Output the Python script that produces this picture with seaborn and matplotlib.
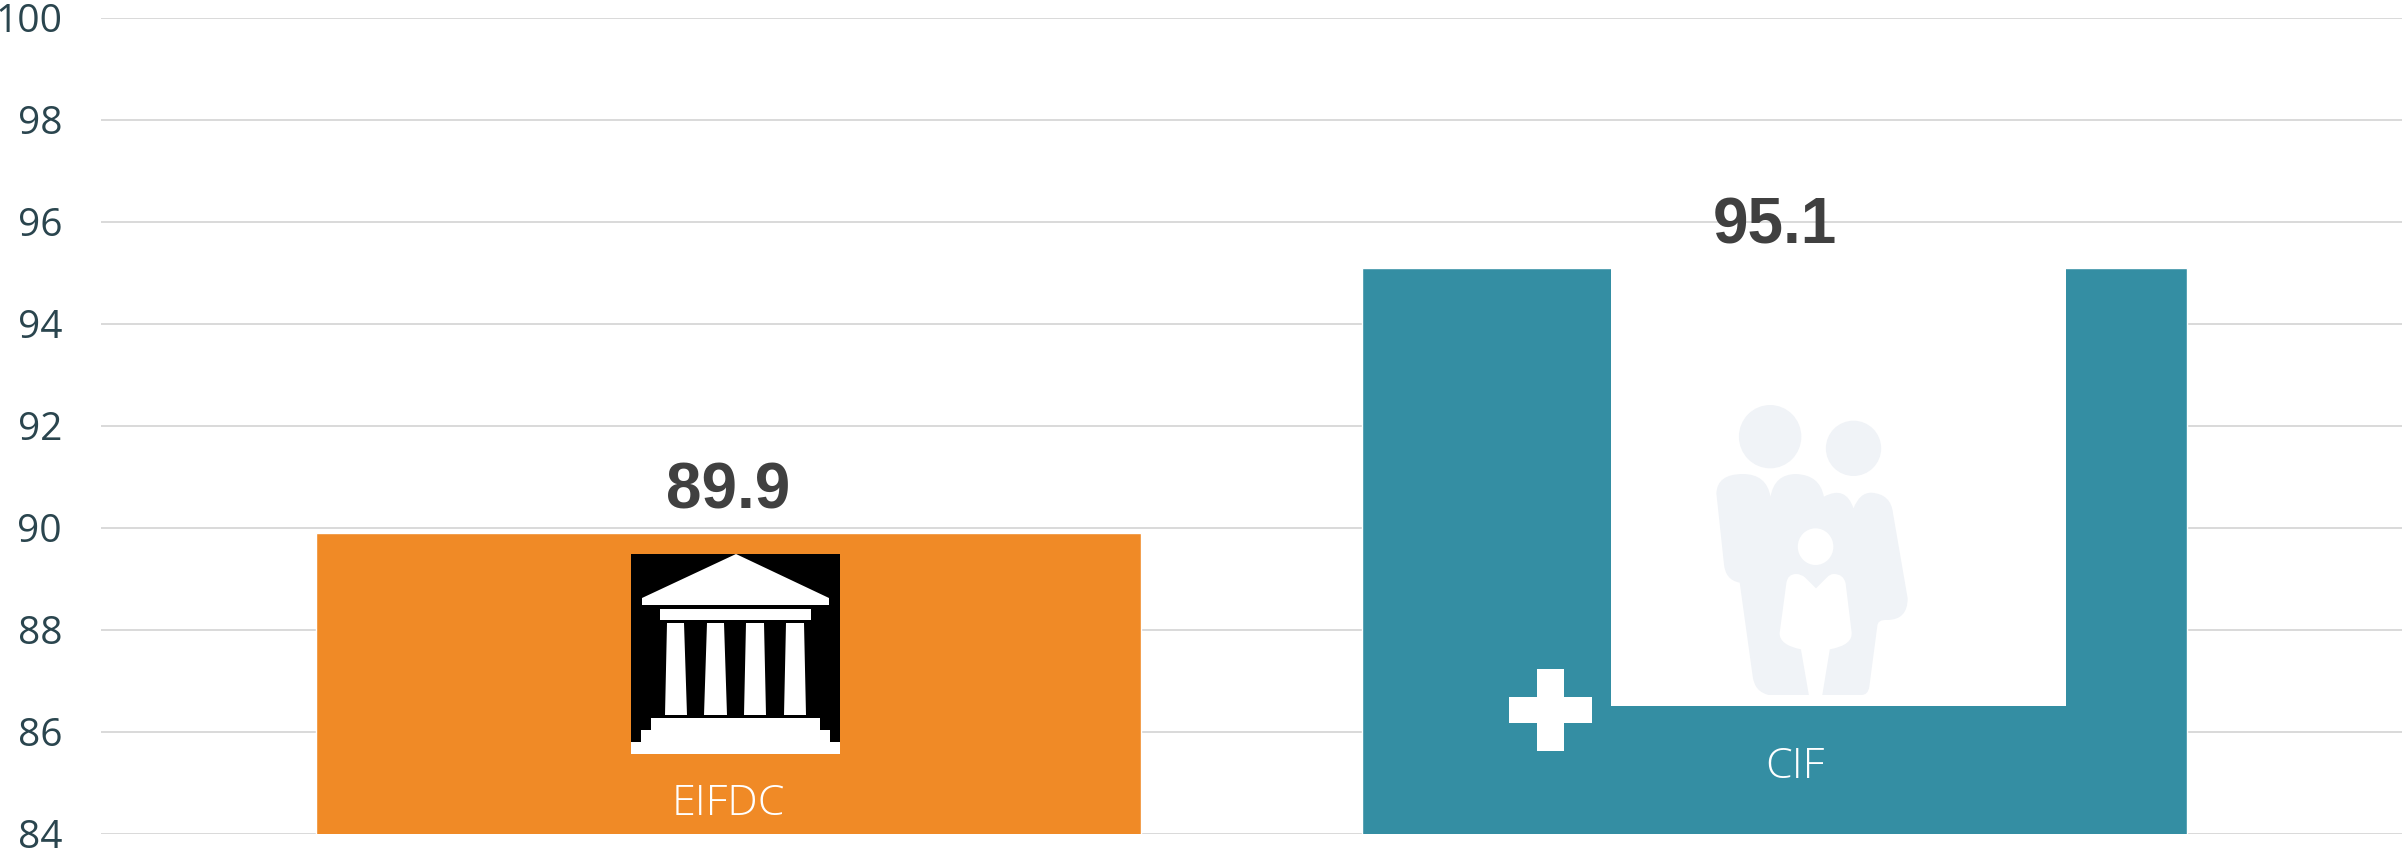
import matplotlib
matplotlib.use("Agg")
import matplotlib.pyplot as plt
from matplotlib.patches import Ellipse, PathPatch, Polygon, Rectangle
from matplotlib.path import Path
import pandas as pd
import seaborn as sns

categories = ["EIFDC", "CIF"]
values = [89.9, 95.1]
bar_colors = ["#F08A26", "#348EA3"]
y_ticks = list(range(84, 101, 2))

W, H = 2402, 851
sns.set_theme(style="white")
plt.rcParams["font.family"] = ["Open Sans", "DejaVu Sans"]

fig = plt.figure(figsize=(W / 100, H / 100), dpi=100, facecolor="white")
ax = fig.add_axes([101 / W, 1 - 834 / H, (W - 101) / W, 816 / H])

df = pd.DataFrame({"category": categories, "value": values})
sns.barplot(data=df, x="category", y="value", hue="category", palette=bar_colors,
            width=0.789, saturation=1, legend=False, ax=ax, zorder=3)
ax.set_xlim(-0.6, 1.6)
ax.set_ylim(84, 100)
ax.set_yticks(y_ticks)
ax.set_yticklabels([str(t) for t in y_ticks], fontsize=28, color="#2A454E", fontweight=400)
ax.tick_params(axis="y", length=0, pad=28)
ax.tick_params(axis="x", length=0, labelbottom=False)
ax.set_xlabel("")
ax.set_ylabel("")
ax.yaxis.grid(True, color="#D9D9D9", linewidth=1.4, zorder=0)
ax.set_axisbelow(True)
for spine in ax.spines.values():
    spine.set_visible(False)
ax.margins(0)

# Bold value captions above the bars
for i, v in enumerate(values):
    ax.annotate(f"{v}", (i, v), xytext=(0, 30), textcoords="offset points",
                ha="center", va="center", fontsize=46, fontweight="bold",
                family="Liberation Sans", color="#404040", zorder=6)

# Overlay in pixel coordinates for the pictograms
ov = fig.add_axes([0, 0, 1, 1], facecolor="none")
ov.set_xlim(0, W)
ov.set_ylim(H, 0)
ov.axis("off")

# Bank building on a black tile
ov.add_patch(Rectangle((631, 554), 209, 200, fc="black", ec="none"))
white = dict(fc="white", ec="none")
ov.add_patch(Polygon([(736, 554), (829, 598), (829, 605), (642, 605), (642, 598)], **white))
ov.add_patch(Rectangle((660, 609), 151, 11, **white))
for top_l, top_r, bot_l, bot_r in [(667, 684, 665, 687), (707, 724, 704, 727),
                                   (746, 764, 744, 766), (786, 804, 784, 806)]:
    ov.add_patch(Polygon([(top_l, 623), (top_r, 623), (bot_r, 715), (bot_l, 715)], **white))
ov.add_patch(Rectangle((651, 718), 169, 12, **white))
ov.add_patch(Rectangle((641, 730), 189, 12, **white))
ov.add_patch(Rectangle((631, 742), 209, 12, **white))

# White panel cut into the CIF bar
ov.add_patch(Rectangle((1611, 268), 455, 438, fc="white", ec="none"))

# Medical cross
ov.add_patch(Rectangle((1537, 669), 27, 82, **white))
ov.add_patch(Rectangle((1509, 697), 83, 26, **white))


def fx(x):
    return 1480 + x / 2.53


def fy(y):
    return 380 + y / 3


family_color = "#F0F3F7"
ov.add_patch(Ellipse((fx(734), fy(170)), 158 / 2.53, 190 / 3, fc=family_color, ec="none"))
ov.add_patch(Ellipse((fx(945), fy(205)), 140 / 2.53, 166 / 3, fc=family_color, ec="none"))

# Outline of the family group: straight runs and quadratic corners
outline = [
    ("M", (730, 945)), ("Q", (695, 935), (690, 890)), ("L", (657, 608)),
    ("Q", (620, 600), (617, 550)), ("L", (598, 340)), ("Q", (600, 282), (665, 282)),
    ("Q", (725, 282), (735, 350)), ("Q", (745, 282), (800, 282)),
    ("Q", (860, 285), (870, 350)), ("Q", (925, 315), (945, 385)),
    ("Q", (960, 338), (990, 338)), ("Q", (1040, 342), (1045, 400)),
    ("L", (1082, 655)), ("Q", (1082, 720), (1030, 720)), ("Q", (1005, 718), (1005, 740)),
    ("L", (985, 920)), ("Q", (982, 945), (965, 945)), ("L", (866, 945)),
    ("L", (885, 808)), ("Q", (945, 795), (940, 755)), ("L", (925, 610)),
    ("Q", (920, 582), (895, 582)), ("Q", (885, 582), (878, 592)), ("L", (850, 625)),
    ("L", (822, 592)), ("Q", (812, 582), (800, 582)), ("Q", (778, 582), (775, 610)),
    ("L", (758, 760)), ("Q", (758, 795), (812, 808)), ("L", (832, 945)),
]
verts, codes = [], []
for seg in outline:
    kind, *pts = seg
    for j, p in enumerate(pts):
        verts.append((fx(p[0]), fy(p[1])))
        codes.append({"M": Path.MOVETO, "L": Path.LINETO, "Q": Path.CURVE3}[kind])
verts.append(verts[0])
codes.append(Path.CLOSEPOLY)
ov.add_patch(PathPatch(Path(verts, codes), fc=family_color, ec="none"))
ov.add_patch(Ellipse((fx(849), fy(500)), 90 / 2.53, 110 / 3, fc="white", ec="none"))

# Category names inside the bars
ov.text(728, 804, categories[0], color="white", fontsize=31, fontweight=300,
        ha="center", va="center")
ov.text(1795, 767, categories[1], color="white", fontsize=31, fontweight=300,
        ha="center", va="center")

fig.savefig("out.png", dpi=100, facecolor="white")
